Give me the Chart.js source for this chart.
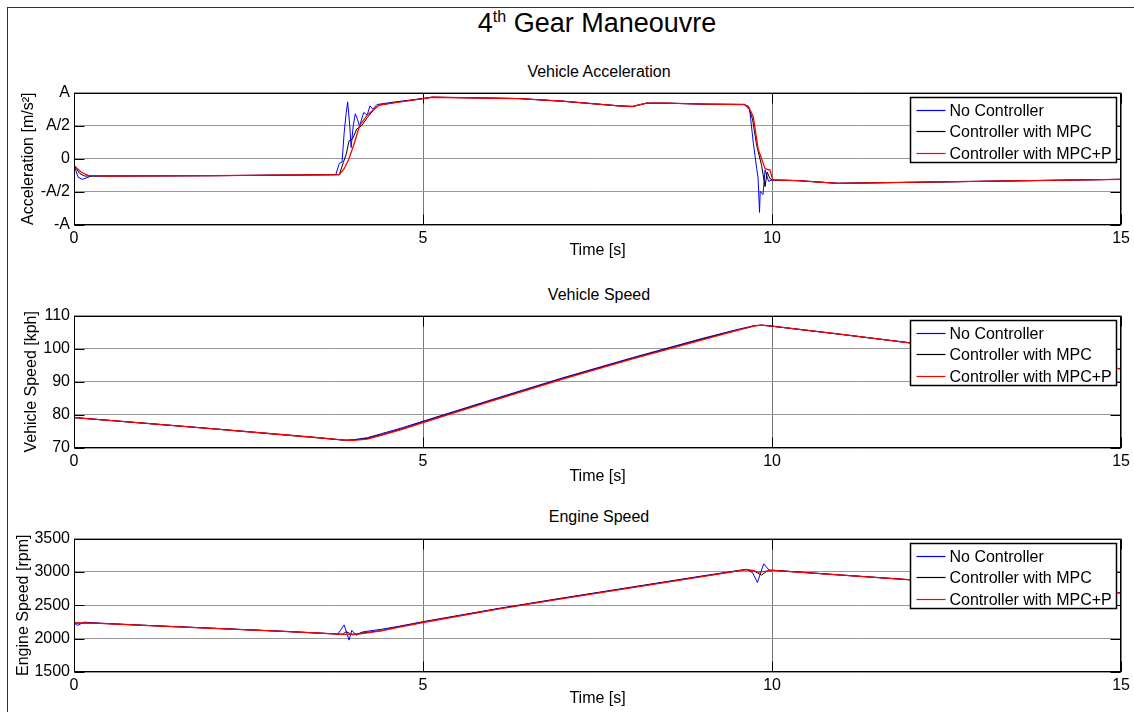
<!DOCTYPE html>
<html>
<head>
<meta charset="utf-8">
<script src="https://cdn.jsdelivr.net/npm/chart.js@4.4.1/dist/chart.umd.min.js"></script>
<style>
  html, body { margin:0; padding:0; background:#fff; }
  #fig { position:relative; width:1134px; height:712px; overflow:hidden; background:#fff;
         font-family:"Liberation Sans", Arial, sans-serif; color:#000; }
  #frame { position:absolute; left:7px; top:7px; width:1140px; height:720px; border-left:1px solid #333; border-top:1px solid #333; }
  canvas { position:absolute; left:0; }
  .ttl { position:absolute; transform:translate(-50%,-50%); white-space:nowrap; }
  .main { font-size:27px; }
  .main sup { font-size:16px; vertical-align: 10px; line-height:0; }
  .sub { font-size:16px; }
</style>
</head>
<body>
<div id="fig">
  <div id="frame"></div>
  <div class="ttl main" style="left:597px; top:23px;">4<sup>th</sup> Gear Maneouvre</div>
  <div class="ttl sub" style="left:599px; top:72px;">Vehicle Acceleration</div>
  <div class="ttl sub" style="left:599px; top:295px;">Vehicle Speed</div>
  <div class="ttl sub" style="left:599px; top:517px;">Engine Speed</div>
  <canvas id="c1" width="1134" height="181" style="top:79px"></canvas>
  <canvas id="c2" width="1134" height="184" style="top:302px"></canvas>
  <canvas id="c3" width="1134" height="183" style="top:525px"></canvas>
</div>
<script>
// ---------- labels ----------
const seriesLabels = ['No Controller', 'Controller with MPC', 'Controller with MPC+P'];
const seriesColors = ['#0000ff', '#000000', '#ff0000'];
const timeTicks = [0, 5, 10, 15];
const accTickLabels = ['-A', '-A/2', '0', 'A/2', 'A'];
const accTickValues = [-1, -0.5, 0, 0.5, 1];

// ---------- Vehicle acceleration (normalised to A) ----------
const accBlueT = [0, 0.06, 0.12, 0.25, 0.5, 2, 3.75, 3.8, 3.84, 3.87, 3.9, 3.92, 3.95, 3.97, 4.0, 4.03, 4.06, 4.09, 4.15, 4.2, 4.24, 4.28, 4.34, 4.6, 5, 5.13, 6.37, 7, 7.8, 8.0, 8.2, 8.5, 9.06, 9.6, 9.68, 9.73, 9.78, 9.8, 9.82, 9.83, 9.87, 9.9, 9.95, 10.0, 10.37, 10.94, 12.37, 15];
const accBlue  = [-0.1, -0.28, -0.31, -0.26, -0.26, -0.255, -0.24, -0.07, -0.05, 0.39, 0.7, 0.86, 0.5, 0.17, 0.5, 0.68, 0.6, 0.49, 0.7, 0.66, 0.8, 0.75, 0.82, 0.86, 0.91, 0.93, 0.91, 0.87, 0.8, 0.79, 0.84, 0.84, 0.825, 0.82, 0.74, 0.25, -0.15, -0.29, -0.81, -0.49, -0.54, -0.17, -0.34, -0.32, -0.33, -0.37, -0.35, -0.31];
const accBlackT = [0, 0.08, 0.15, 0.5, 2, 3.8, 3.86, 3.9, 3.94, 3.99, 4.05, 4.12, 4.2, 4.3, 4.37, 4.6, 5, 5.13, 6.37, 7, 7.8, 8.0, 8.2, 8.5, 9.06, 9.6, 9.66, 9.72, 9.78, 9.85, 9.9, 9.93, 9.97, 10.01, 10.37, 10.94, 12.37, 15];
const accBlack  = [-0.1, -0.22, -0.26, -0.26, -0.255, -0.24, -0.05, 0.07, 0.27, 0.3, 0.45, 0.5, 0.62, 0.75, 0.81, 0.85, 0.91, 0.93, 0.91, 0.87, 0.8, 0.79, 0.84, 0.84, 0.825, 0.82, 0.79, 0.6, 0.2, -0.1, -0.42, -0.2, -0.3, -0.32, -0.33, -0.37, -0.35, -0.31];
const accRedT = [0, 0.1, 0.2, 0.5, 2, 3.8, 3.87, 3.94, 4.02, 4.09, 4.2, 4.37, 4.6, 5, 5.13, 6.37, 7, 7.8, 8.0, 8.2, 8.5, 9.06, 9.6, 9.66, 9.73, 9.8, 9.9, 9.97, 10.01, 10.37, 10.94, 12.37, 15];
const accRed  = [-0.1, -0.2, -0.25, -0.26, -0.255, -0.24, -0.15, 0, 0.25, 0.5, 0.66, 0.81, 0.85, 0.91, 0.93, 0.91, 0.87, 0.8, 0.79, 0.84, 0.84, 0.825, 0.82, 0.79, 0.64, 0.15, -0.15, -0.17, -0.32, -0.33, -0.37, -0.35, -0.31];

// ---------- Vehicle speed [kph] ----------
const speedT     = [0, 1, 2, 3, 3.5, 3.8, 3.9, 4.0, 4.2, 4.4, 4.7, 5, 6, 7, 8, 9, 9.5, 9.75, 9.85, 10, 11, 12, 13, 14, 15];
const speedBlue  = [79.2, 77.5, 75.8, 74.0, 73.1, 72.5, 72.4, 72.5, 73.1, 74.3, 76.1, 78.1, 84.7, 91.2, 97.3, 103.1, 105.8, 107.0, 107.1, 106.8, 104.3, 101.7, 99.1, 96.5, 93.9];
const speedBlack = [79.2, 77.5, 75.8, 74.0, 73.1, 72.5, 72.3, 72.4, 72.9, 74.0, 75.8, 77.9, 84.5, 91.0, 97.1, 102.9, 105.6, 106.9, 107.1, 106.8, 104.3, 101.7, 99.1, 96.5, 93.9];
const speedRed   = [79.2, 77.5, 75.8, 74.0, 73.1, 72.5, 72.3, 72.3, 72.7, 73.8, 75.6, 77.7, 84.3, 90.8, 96.9, 102.7, 105.5, 106.9, 107.1, 106.8, 104.3, 101.7, 99.1, 96.5, 93.9];

// ---------- Engine speed [rpm] ----------
const engBlueT = [0, 0.05, 0.15, 0.3, 1, 2, 3, 3.78, 3.87, 3.94, 3.98, 4.04, 4.13, 4.4, 4.66, 5, 6.09, 7, 8, 9, 9.63, 9.72, 9.79, 9.88, 9.97, 10.01, 11, 12, 13, 14, 15];
const engBlue  = [2235, 2200, 2248, 2236, 2200, 2155, 2110, 2068, 2206, 1978, 2125, 2052, 2100, 2140, 2187, 2255, 2455, 2610, 2775, 2940, 3040, 2990, 2842, 3122, 3011, 3025, 2953, 2881, 2815, 2750, 2686];
const engBlackT = [0, 0.3, 1, 2, 3, 3.85, 3.9, 3.99, 4.1, 4.4, 4.66, 5, 6.09, 7, 8, 9, 9.63, 9.75, 9.85, 9.95, 10.01, 11, 12, 13, 14, 15];
const engBlack  = [2235, 2232, 2200, 2155, 2110, 2066, 2105, 2057, 2080, 2120, 2178, 2248, 2450, 2605, 2770, 2935, 3035, 3010, 2953, 3030, 3025, 2953, 2881, 2815, 2750, 2686];
const engRedT = [0, 0.3, 1, 2, 3, 3.88, 4.1, 4.4, 4.66, 5, 6.09, 7, 8, 9, 9.63, 9.72, 9.8, 9.9, 10.01, 11, 12, 13, 14, 15];
const engRed  = [2235, 2232, 2200, 2155, 2110, 2065, 2072, 2115, 2172, 2242, 2445, 2600, 2765, 2930, 3035, 3022, 2998, 3008, 3025, 2953, 2881, 2815, 2750, 2686];

// ---------- helpers ----------
const FONT = '"Liberation Sans", Arial, sans-serif';
const pts = (t, v) => t.map((x, i) => ({ x: x, y: v[i] }));

function makeDatasets(seriesT, seriesV) {
  return seriesV.map((v, i) => ({
    label: seriesLabels[i],
    data: pts(seriesT[i], v),
    borderColor: seriesColors[i],
    borderWidth: i === 2 ? 1.3 : 1,
    pointRadius: 0,
    tension: 0,
    fill: false,
    order: 3 - i
  }));
}

const matlabPlugin = {
  id: 'matlabBox',
  afterDraw(chart) {
    const { ctx, chartArea: a, scales } = chart;
    const L = Math.round(a.left) + 0.5, R = Math.round(a.right) - 0.5;
    const T = Math.round(a.top) + 0.5, B = Math.round(a.bottom) - 0.5;
    ctx.save();
    ctx.strokeStyle = '#000';
    ctx.lineWidth = 1;
    ctx.beginPath();
    scales.x.ticks.forEach(tk => {
      const px = Math.round(scales.x.getPixelForValue(tk.value)) + 0.5;
      ctx.moveTo(px, B); ctx.lineTo(px, B - 10);
      ctx.moveTo(px, T); ctx.lineTo(px, T + 10);
    });
    scales.y.ticks.forEach(tk => {
      const py = Math.round(scales.y.getPixelForValue(tk.value)) + 0.5;
      ctx.moveTo(L, py); ctx.lineTo(L + 10, py);
      ctx.moveTo(R, py); ctx.lineTo(R - 10, py);
    });
    ctx.stroke();
    ctx.strokeRect(L, T, R - L, B - T);

    // legend
    const w = 206, h = 65;
    const lx = Math.round(a.right) - 5 - w + 0.5, ly = Math.round(a.top) + 4 + 0.5;
    ctx.fillStyle = '#fff';
    ctx.fillRect(lx, ly, w, h);
    ctx.strokeStyle = '#000';
    ctx.lineWidth = 1.5;
    ctx.strokeRect(lx, ly, w, h);
    ctx.font = '16px ' + FONT;
    ctx.textBaseline = 'middle';
    ctx.textAlign = 'left';
    chart.data.datasets.forEach((ds, i) => {
      const yy = Math.round(ly + 12 + i * 21.7) + 0.5;
      ctx.beginPath();
      ctx.strokeStyle = seriesColors[i];
      ctx.lineWidth = 1.2;
      ctx.moveTo(lx + 6, yy);
      ctx.lineTo(lx + 35, yy);
      ctx.stroke();
      ctx.fillStyle = '#000';
      ctx.fillText(ds.label, lx + 39, yy + 1);
    });
    ctx.restore();
  }
};

const plainNum = v => String(v);

function makeChart(id, datasets, ycfg, yTitle, yTitlePad, xHeight) {
  return new Chart(document.getElementById(id), {
    type: 'line',
    data: { datasets },
    plugins: [matlabPlugin],
    options: {
      responsive: false,
      animation: false,
      devicePixelRatio: 1,
      layout: { padding: { top: 10, right: 10, bottom: 0, left: 0 } },
      plugins: { legend: { display: false }, tooltip: { enabled: false }, title: { display: false } },
      scales: {
        x: {
          type: 'linear', min: 0, max: 15,
          afterBuildTicks: s => { s.ticks = timeTicks.map(v => ({ value: v })); },
          afterFit: s => { s.height = xHeight; },
          grid: { color: '#777', lineWidth: 1, drawTicks: false },
          border: { display: false },
          ticks: { color: '#000', padding: 4, font: { family: FONT, size: 16 }, maxRotation: 0, autoSkip: false, callback: plainNum },
          title: { display: true, text: 'Time [s]', color: '#000', font: { family: FONT, size: 16 }, padding: { top: 0, bottom: 0 } }
        },
        y: Object.assign({
          type: 'linear',
          afterFit: s => { s.width = 74; },
          grid: { color: '#999', lineWidth: 1, drawTicks: false },
          border: { display: false },
          title: { display: true, text: yTitle, color: '#000', font: { family: FONT, size: 16 }, padding: { top: yTitlePad, bottom: 0 } }
        }, ycfg)
      }
    }
  });
}

makeChart('c1',
  makeDatasets([accBlueT, accBlackT, accRedT], [accBlue, accBlack, accRed]),
  {
    min: -1, max: 1,
    afterBuildTicks: s => { s.ticks = accTickValues.map(v => ({ value: v })); },
    ticks: { color: '#000', padding: 4, font: { family: FONT, size: 16 },
             callback: (v) => accTickLabels[accTickValues.indexOf(v)] }
  },
  'Acceleration [m/s²]', 19, 35);

makeChart('c2',
  makeDatasets([speedT, speedT, speedT], [speedBlue, speedBlack, speedRed]),
  { min: 70, max: 110, ticks: { stepSize: 10, color: '#000', padding: 4, font: { family: FONT, size: 16 }, callback: plainNum } },
  'Vehicle Speed [kph]', 22, 38);

makeChart('c3',
  makeDatasets([engBlueT, engBlackT, engRedT], [engBlue, engBlack, engRed]),
  { min: 1500, max: 3500, ticks: { stepSize: 500, color: '#000', padding: 4, font: { family: FONT, size: 16 }, callback: plainNum } },
  'Engine Speed [rpm]', 14, 36);
</script>
</body>
</html>
